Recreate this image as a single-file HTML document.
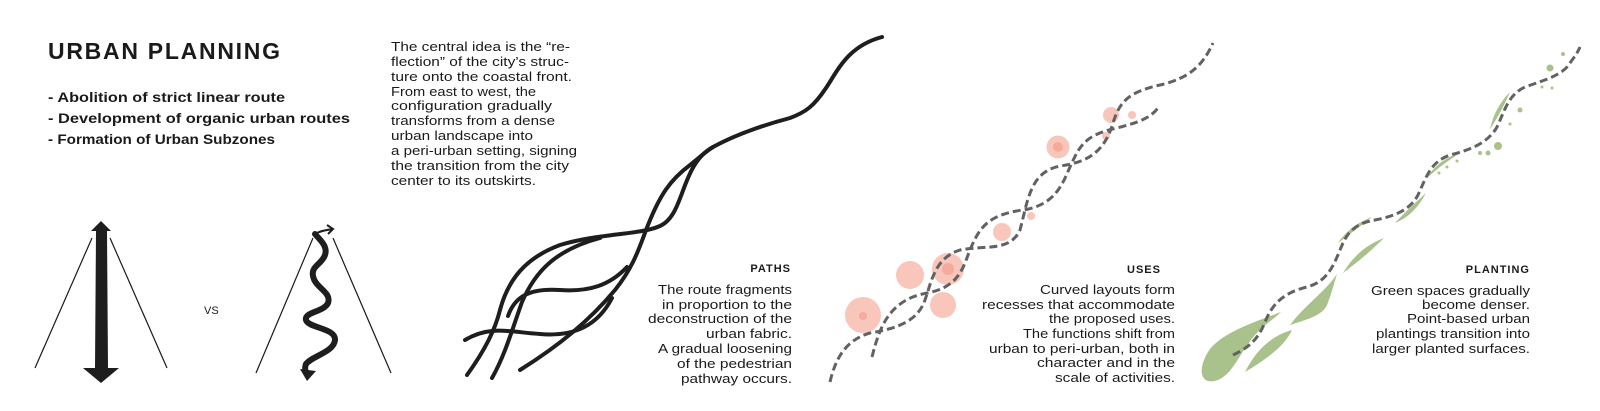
<!DOCTYPE html>
<html><head><meta charset="utf-8"><style>
html,body{margin:0;padding:0;background:#fff;}
svg{display:block;}
text{font-family:"Liberation Sans",sans-serif;fill:#1a1a1a;}
.b{font-size:13px;}
.h{font-size:11px;font-weight:bold;letter-spacing:1px;}
</style></head><body>
<svg width="1600" height="411" viewBox="0 0 1600 411" xmlns="http://www.w3.org/2000/svg">
<!-- Title -->
<text x="48" y="59" font-size="23" font-weight="bold" textLength="232" lengthAdjust="spacing">URBAN PLANNING</text>
<text x="48" y="102" font-size="14" font-weight="bold" textLength="237" lengthAdjust="spacingAndGlyphs">- Abolition of strict linear route</text>
<text x="48" y="123" font-size="14" font-weight="bold" textLength="302" lengthAdjust="spacingAndGlyphs">- Development of organic urban routes</text>
<text x="48" y="144" font-size="14" font-weight="bold" textLength="227" lengthAdjust="spacingAndGlyphs">- Formation of Urban Subzones</text>

<!-- paragraph -->
<g class="b">
<text x="391" y="51" textLength="179" lengthAdjust="spacingAndGlyphs">The central idea is the “re-</text>
<text x="391" y="66" textLength="178" lengthAdjust="spacingAndGlyphs">flection” of the city’s struc-</text>
<text x="391" y="81" textLength="181" lengthAdjust="spacingAndGlyphs">ture onto the coastal front.</text>
<text x="391" y="96" textLength="145" lengthAdjust="spacingAndGlyphs">From east to west, the</text>
<text x="391" y="110" textLength="161" lengthAdjust="spacingAndGlyphs">configuration gradually</text>
<text x="391" y="125" textLength="164" lengthAdjust="spacingAndGlyphs">transforms from a dense</text>
<text x="391" y="140" textLength="142" lengthAdjust="spacingAndGlyphs">urban landscape into</text>
<text x="391" y="155" textLength="186" lengthAdjust="spacingAndGlyphs">a peri-urban setting, signing</text>
<text x="391" y="170" textLength="178" lengthAdjust="spacingAndGlyphs">the transition from the city</text>
<text x="391" y="185" textLength="145" lengthAdjust="spacingAndGlyphs">center to its outskirts.</text>
</g>

<!-- left diagram -->
<g stroke="#1a1a1a" stroke-width="1.2">
<line x1="35" y1="368" x2="92" y2="238"/>
<line x1="110" y1="238" x2="167" y2="368"/>
<line x1="256" y1="373" x2="313" y2="238"/>
<line x1="333" y1="238" x2="391" y2="373"/>
</g>
<polygon points="101,221 111,231 107,231 108,368 119,368 101,383 83,368 95,368 96,231 91,231" fill="#1e1e1e"/>
<text x="204" y="314" font-size="11">VS</text>
<path d="M315,234 C320,240 328,246 325,255 C322,264 311,266 313,276 C315,288 332,292 328,303 C324,312 304,312 306,320 C308,328 336,328 335,340 C334,352 312,356 306,364 C304,369 306,373 308,375" fill="none" stroke="#1e1e1e" stroke-width="6" stroke-linecap="round"/>
<path d="M315,234 C320,231 326,230 333,229" fill="none" stroke="#1e1e1e" stroke-width="2"/>
<path d="M327,225 L333,229 L328,234" fill="none" stroke="#1e1e1e" stroke-width="2"/>
<polygon points="300,369 316,371 307,381" fill="#1e1e1e"/>

<!-- PATHS curves -->
<g fill="none" stroke="#1e1e1e" stroke-width="4" stroke-linecap="round">
<path d="M882,37 C848,46 838,70 826,88 C814,106 806,112 790,118 C760,126 735,135 713,147"/>
<path d="M467,375 C485,350 495,330 500,310 C508,280 525,258 560,245 C600,233 640,235 660,226 C685,215 680,165 713,147"/>
<path d="M492,378 C505,355 512,330 522,302 C535,272 555,250 600,238"/>
<path d="M520,370 C560,345 590,320 615,290 C635,265 640,245 648,225 C660,195 670,180 690,165 C700,157 705,152 713,147"/>
<path d="M465,340 C490,325 510,332 540,334 C575,337 598,325 612,298"/>
<path d="M508,316 C515,296 530,288 560,290 C590,292 610,285 627,267"/>
</g>
<text class="h" x="791" y="272" text-anchor="end">PATHS</text>
<g class="b" text-anchor="end">
<text x="792" y="294" textLength="134" lengthAdjust="spacingAndGlyphs">The route fragments</text>
<text x="792" y="309" textLength="130" lengthAdjust="spacingAndGlyphs">in proportion to the</text>
<text x="792" y="323" textLength="144" lengthAdjust="spacingAndGlyphs">deconstruction of the</text>
<text x="792" y="338" textLength="86" lengthAdjust="spacingAndGlyphs">urban fabric.</text>
<text x="792" y="353" textLength="134" lengthAdjust="spacingAndGlyphs">A gradual loosening</text>
<text x="792" y="368" textLength="115" lengthAdjust="spacingAndGlyphs">of the pedestrian</text>
<text x="792" y="383" textLength="111" lengthAdjust="spacingAndGlyphs">pathway occurs.</text>
</g>

<!-- USES -->
<g fill="#f4a08c" fill-opacity="0.6">
<circle cx="863" cy="315" r="18"/>
<circle cx="910" cy="275" r="14"/>
<circle cx="948" cy="269" r="16"/>
<circle cx="943" cy="305" r="13"/>
<circle cx="1002" cy="232" r="9"/>
<circle cx="1031" cy="216" r="4"/>
<circle cx="1058" cy="147" r="11.5"/>
<circle cx="1111" cy="115" r="8"/>
<circle cx="1132" cy="115" r="4"/>
<circle cx="1106" cy="136" r="4"/>
</g>
<g fill="#f09080" fill-opacity="0.5">
<circle cx="863" cy="316" r="4"/>
<circle cx="948" cy="269" r="6"/>
<circle cx="1058" cy="147" r="5"/>
</g>
<g fill="none" stroke="#626262" stroke-width="3" stroke-dasharray="8 4">
<path d="M830,382 C835,360 845,340 870,333 C900,328 918,320 925,300 C932,280 935,258 960,250 C985,245 1010,252 1020,230 C1028,200 1030,172 1060,166 C1090,162 1105,150 1113,123 C1120,100 1130,92 1160,85 C1190,78 1203,65 1213,43"/>
<path d="M872,357 C880,325 890,300 927,293 C955,288 962,272 968,255 C978,230 985,215 1023,210 C1055,205 1062,185 1070,167 C1080,145 1085,135 1117,128 C1140,122 1150,118 1158,108"/>
</g>
<text class="h" x="1161" y="273" text-anchor="end">USES</text>
<g class="b" text-anchor="end">
<text x="1175" y="294" textLength="135" lengthAdjust="spacingAndGlyphs">Curved layouts form</text>
<text x="1175" y="309" textLength="193" lengthAdjust="spacingAndGlyphs">recesses that accommodate</text>
<text x="1175" y="323" textLength="126" lengthAdjust="spacingAndGlyphs">the proposed uses.</text>
<text x="1175" y="338" textLength="152" lengthAdjust="spacingAndGlyphs">The functions shift from</text>
<text x="1175" y="353" textLength="186" lengthAdjust="spacingAndGlyphs">urban to peri-urban, both in</text>
<text x="1175" y="367" textLength="138" lengthAdjust="spacingAndGlyphs">character and in the</text>
<text x="1175" y="382" textLength="120" lengthAdjust="spacingAndGlyphs">scale of activities.</text>
</g>

<!-- PLANTING -->
<g fill="#a9c18a">
<path d="M1281,312 C1255,322 1220,333 1208,352 C1196,372 1202,386 1218,380 C1236,372 1240,348 1262,328 C1270,321 1276,317 1281,312 Z"/>
<path d="M1292,330 C1270,336 1255,352 1245,372 C1265,360 1285,346 1292,330 Z"/>
<path d="M1337,274 C1325,292 1305,305 1290,325 C1305,320 1322,316 1327,305 C1331,295 1334,284 1337,274 Z"/>
<path d="M1384,238 C1365,245 1352,258 1343,273 C1358,262 1372,250 1384,238 Z"/>
<path d="M1372,217 C1358,222 1345,232 1338,243 C1350,234 1362,225 1372,217 Z"/>
<path d="M1426,193 C1418,208 1408,218 1395,223 C1405,212 1416,202 1426,193 Z"/>
<path d="M1460,153 C1446,157 1434,166 1427,178 C1438,168 1449,160 1460,153 Z"/>
<path d="M1510,92 C1500,102 1493,115 1490,129 C1498,117 1505,104 1510,92 Z"/>
<circle cx="1550" cy="68" r="3.5"/><circle cx="1563" cy="54" r="2"/>
<circle cx="1542" cy="87" r="1.5"/><circle cx="1552" cy="88" r="1.5"/>
<circle cx="1520" cy="110" r="2.5"/><circle cx="1510" cy="124" r="1.5"/>
<circle cx="1498" cy="146" r="4"/><circle cx="1488" cy="153" r="2.5"/>
<circle cx="1480" cy="153" r="2"/><circle cx="1457" cy="161" r="1.5"/>
<circle cx="1447" cy="167" r="1.5"/><circle cx="1439" cy="173" r="1.5"/>
</g>
<path d="M1233,355 C1248,348 1258,340 1265,322 C1272,305 1282,293 1307,287 C1325,282 1332,270 1340,250 C1346,235 1352,224 1375,220 C1395,216 1410,210 1418,195 C1426,178 1430,162 1450,155 C1470,150 1488,143 1497,127 C1505,110 1508,95 1525,87 C1545,80 1563,75 1570,63 C1575,56 1578,52 1580,47" fill="none" stroke="#626262" stroke-width="3" stroke-dasharray="8 4"/>
<text class="h" x="1530" y="273" text-anchor="end">PLANTING</text>
<g class="b" text-anchor="end">
<text x="1530" y="295" textLength="159" lengthAdjust="spacingAndGlyphs">Green spaces gradually</text>
<text x="1530" y="309" textLength="108" lengthAdjust="spacingAndGlyphs">become denser.</text>
<text x="1530" y="323" textLength="123" lengthAdjust="spacingAndGlyphs">Point-based urban</text>
<text x="1530" y="338" textLength="154" lengthAdjust="spacingAndGlyphs">plantings transition into</text>
<text x="1530" y="353" textLength="158" lengthAdjust="spacingAndGlyphs">larger planted surfaces.</text>
</g>
</svg>
</body></html>
